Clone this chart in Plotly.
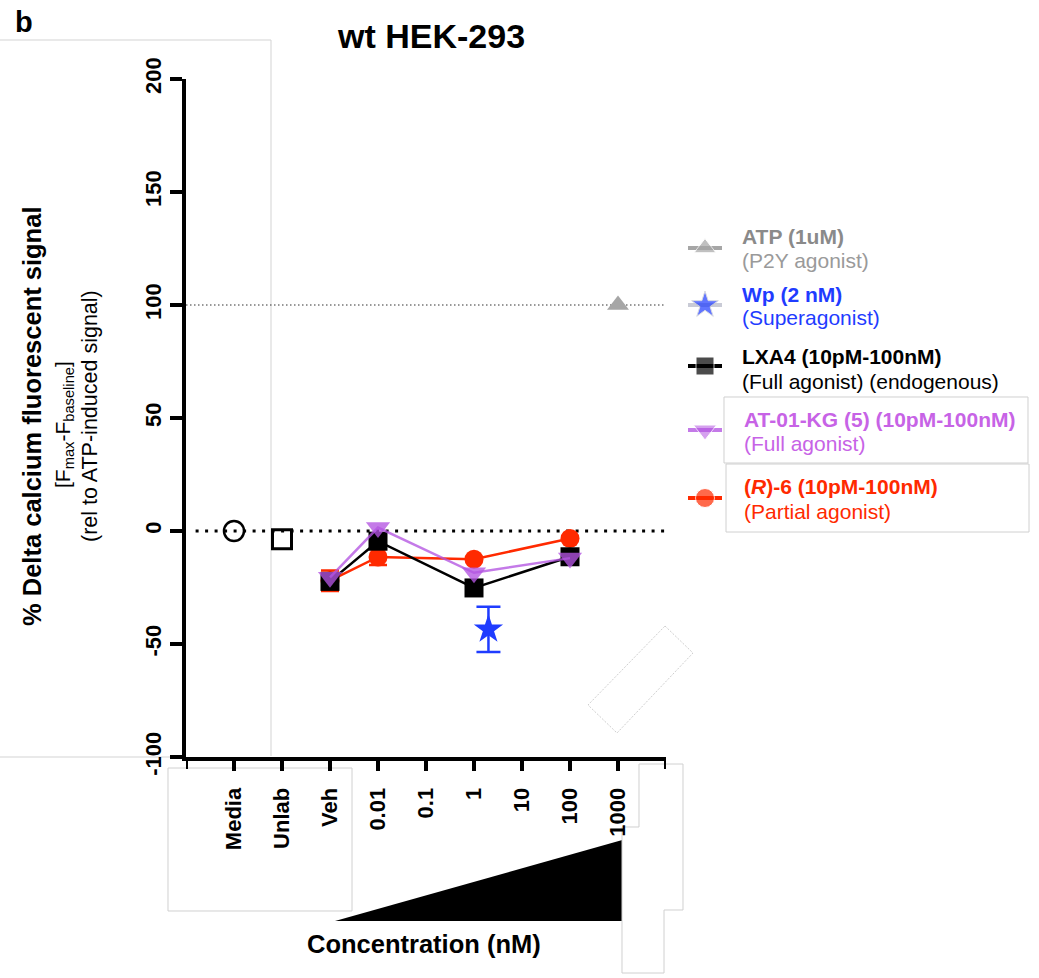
import numpy as np
import plotly.graph_objects as go

W, H = 1039, 978
FONT = "Liberation Sans, Arial, sans-serif"


def px(x):
    return x / W


def py(y):
    return 1 - y / H


# ---- data ----------------------------------------------------------------
tick_labels = ["Media", "Unlab", "Veh", "0.01", "0.1", "1", "10", "100", "1000"]
dose_nM = [0.01, 1, 100]            # LXA4 / AT-01-KG / (R)-6 doses after vehicle

lxa4_y = [-22.3, -4.5, -25.2, -11.4]          # Veh, 0.01, 1, 100 nM
atkg_y = [-20.5, 1.5, -18.5, -12.0]
r6_y = [-22.0, -11.5, -12.5, -3.3]
r6_err = [4.5, 3.5, 0.0, 0.0]

media_y = [0.0]
unlab_y = [-3.7]
wp_conc = [2.0]
wp_y = [-43.5]
wp_err = [10.0]
atp_conc = [1000.0]
atp_y = [100.0]


def dose_pos(c):
    # categorical slots: Media=1, Unlab=2, Veh=3, then one slot per decade from 10 pM
    return 6 + np.log10(np.asarray(c, dtype=float))


series_x = [3] + list(dose_pos(dose_nM))

RED = "#ff2a00"
PURPLE = "rgba(180,84,226,0.78)"
PURPLE_TXT = "#c763e6"
BLUE = "#1f3cff"
GRAY = "#a6a6a6"

fig = go.Figure()

fig.add_trace(go.Scatter(
    x=series_x, y=r6_y, mode="lines+markers",
    line=dict(color=RED, width=2.5),
    marker=dict(symbol="circle", size=19, color=RED),
    error_y=dict(type="data", array=r6_err, color=RED, thickness=2.5, width=9),
))
fig.add_trace(go.Scatter(
    x=series_x, y=lxa4_y, mode="lines+markers",
    line=dict(color="black", width=2.5),
    marker=dict(symbol="square", size=19, color="black"),
))
fig.add_trace(go.Scatter(
    x=series_x, y=atkg_y, mode="lines+markers",
    line=dict(color=PURPLE, width=2.5),
    marker=dict(symbol="triangle-down", size=21, color=PURPLE),
))
fig.add_trace(go.Scatter(
    x=[1], y=media_y, mode="markers",
    marker=dict(symbol="circle-open", size=20, color="black", line=dict(width=2.5)),
))
fig.add_trace(go.Scatter(
    x=[2], y=unlab_y, mode="markers",
    marker=dict(symbol="square-open", size=19, color="black", line=dict(width=3)),
))
fig.add_trace(go.Scatter(
    x=list(dose_pos(wp_conc)), y=wp_y, mode="markers",
    marker=dict(symbol="star", size=22, color=BLUE),
    error_y=dict(type="data", array=wp_err, color=BLUE, thickness=2.5, width=12),
))
fig.add_trace(go.Scatter(
    x=list(dose_pos(atp_conc)), y=atp_y, mode="markers",
    marker=dict(symbol="triangle-up", size=19, color=GRAY),
))

# ---- legend glyphs (pixel-space helper axes) ----------------------------
legend_rows = [
    # marker y, symbol, marker colour, line colour, size
    (248, "triangle-up", GRAY, GRAY, 19),
    (305, "star", BLUE, "#c9cbd6", 20),
    (366, "square", "black", "black", 18),
    (430, "triangle-down", PURPLE, PURPLE, 20),
    (498, "circle", RED, RED, 19),
]
for yy, sym, mc, lc, sz in legend_rows:
    fig.add_trace(go.Scatter(
        x=[688, 705, 722], y=[yy, yy, yy], mode="lines+markers",
        xaxis="x2", yaxis="y2",
        line=dict(color=lc, width=4),
        marker=dict(symbol=sym, size=[0, sz, 0], color=mc),
    ))

# ---- layout ------------------------------------------------------------
fig.update_layout(
    width=W, height=H,
    margin=dict(l=0, r=0, t=0, b=0, autoexpand=False),
    paper_bgcolor="white", plot_bgcolor="rgba(0,0,0,0)",
    showlegend=False,
    font=dict(family=FONT, color="black"),
    xaxis=dict(
        domain=[px(186), px(666)], range=[0, 10], automargin=False,
        tickmode="array", tickvals=list(range(1, 10)), ticktext=tick_labels,
        tickangle=-90, showgrid=False, zeroline=False,
        showline=True, linewidth=4, linecolor="black",
        ticks="outside", ticklen=10, tickwidth=4, tickcolor="black",
        ticklabelstandoff=8,
        tickfont=dict(family=FONT, size=22, weight="bold", color="black"),
    ),
    yaxis=dict(
        domain=[py(757), py(79)], range=[-100, 200], automargin=False,
        tickmode="array", tickvals=[-100, -50, 0, 50, 100, 150, 200],
        ticktext=["-100", "-50", "0", "50", "100", "150", "200"],
        tickangle=-90, showgrid=False, zeroline=False,
        showline=True, linewidth=4, linecolor="black",
        ticks="outside", ticklen=12, tickwidth=4, tickcolor="black",
        tickfont=dict(family=FONT, size=22, weight="bold", color="black"),
    ),
    xaxis2=dict(domain=[0, 1], range=[0, W], visible=False, anchor="y2", automargin=False),
    yaxis2=dict(domain=[0, 1], range=[H, 0], visible=False, anchor="x2", automargin=False),
)

# end ticks of the x-axis at both ends of the category span
for xe in (0, 10):
    fig.add_shape(type="line", xref="x", yref="paper", x0=xe, x1=xe,
                  y0=py(757), y1=py(769), line=dict(color="black", width=4),
                  layer="above")


def pline(x0, y0, x1, y1, color="#d3d3d3", width=1, dash=None, layer="below"):
    fig.add_shape(type="line", xref="paper", yref="paper",
                  x0=px(x0), y0=py(y0), x1=px(x1), y1=py(y1),
                  line=dict(color=color, width=width, dash=dash), layer=layer)


def ppath(points, fill="white", line_color="#d0d0d0", width=1, dash=None, layer="below"):
    d = "M " + " L ".join(f"{px(a):.5f},{py(b):.5f}" for a, b in points) + " Z"
    fig.add_shape(type="path", xref="paper", yref="paper", path=d,
                  fillcolor=fill, line=dict(color=line_color, width=width, dash=dash),
                  layer=layer)


# panel frame on the left
pline(0, 40, 271, 40)
pline(271, 40, 271, 756)
pline(0, 757, 173, 757)

# reference lines at 0 % and 100 %
fig.add_shape(type="line", xref="x", yref="y", x0=0.2, x1=10, y0=0, y1=0,
              line=dict(color="black", width=3, dash="3px,6.5px"), layer="below")
fig.add_shape(type="line", xref="x", yref="y", x0=0, x1=10, y0=100, y1=100,
              line=dict(color="#333333", width=1.2, dash="1.5px,2.5px"), layer="below")

# concentration wedge and the framed boxes around the x-axis
ppath([(168, 768), (352, 768), (352, 911), (168, 911)])
ppath([(335, 921), (640, 835), (640, 921)], fill="black", line_color="black", width=0)
ppath([(639, 764), (683, 764), (683, 910), (664, 910), (664, 973),
       (622, 973), (622, 827), (639, 827)])

# dashed rotated outline
ppath([(665, 626), (693, 653), (617, 733), (588, 705)], fill="rgba(0,0,0,0)",
      line_color="#cfcfcf", width=1, dash="2px,1.5px")

# framed legend rows
ppath([(724, 397), (1028, 397), (1028, 463), (724, 463)])
ppath([(726, 464), (1029, 464), (1029, 532), (726, 532)])


def ann(x, y, text, size, color="black", bold=False, angle=0, xanchor="center"):
    fig.add_annotation(
        xref="paper", yref="paper", x=px(x), y=py(y), text=text,
        showarrow=False, textangle=angle, xanchor=xanchor, yanchor="middle",
        font=dict(family=FONT, size=size, color=color,
                  weight="bold" if bold else "normal"),
    )


ann(24, 22, "b", 29, bold=True)
ann(431, 36, "wt HEK-293", 34, bold=True)
ann(32, 417, "% Delta calcium fluorescent signal", 25.5, bold=True, angle=-90)
ann(64, 425, "[F<sub>max</sub>-F<sub>baseline</sub>]", 21, angle=-90)
ann(90, 416, "(rel to ATP-induced signal)", 21.5, angle=-90)
ann(424, 944, "Concentration (nM)", 25.5, bold=True)

legend_text = [
    (740, 237, 260, "ATP (1uM)", "(P2Y agonist)", "#8a8a8a", "#9a9a9a"),
    (740, 294, 317, "Wp (2 nM)", "(Superagonist)", BLUE, BLUE),
    (740, 356, 381, "LXA4 (10pM-100nM)", "(Full agonist) (endogenous)", "black", "black"),
    (742, 420, 443, "AT-01-KG (5) (10pM-100nM)", "(Full agonist)", PURPLE_TXT, PURPLE_TXT),
    (742, 487, 511, "(<i>R</i>)-6 (10pM-100nM)", "(Partial agonist)", RED, RED),
]
for x0, y1, y2, t1, t2, c1, c2 in legend_text:
    ann(x0, y1, t1, 21, color=c1, bold=True, xanchor="left")
    ann(x0, y2, t2, 21, color=c2, xanchor="left")

fig.write_html("out.html")
